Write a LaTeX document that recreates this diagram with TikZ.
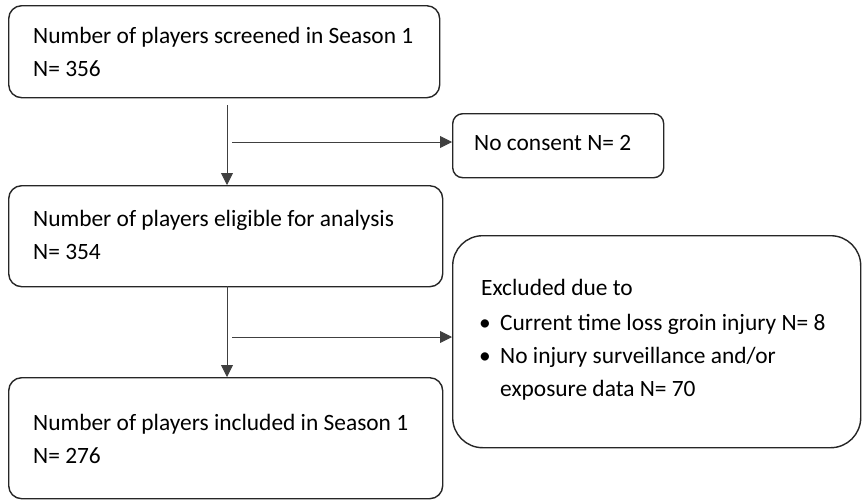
\documentclass[tikz,border=0pt]{standalone}
\usepackage{fontspec}
\setmainfont{Carlito}
\usetikzlibrary{arrows.meta}
\tikzset{
  box/.style={draw=black!85, line width=1.4pt, rounded corners=13pt, inner sep=0pt, anchor=north west},
  txt/.style={anchor=base west, inner sep=0pt, font=\fontsize{23.4pt}{27pt}\selectfont, text=black},
  flow/.style={draw=black!75, line width=0.9pt, -{Triangle[length=12pt,width=12pt]}}
}
\begin{document}
\begin{tikzpicture}[x=1pt,y=-1pt]
\useasboundingbox (0,0) rectangle (862,501);
% boxes
\node[box, minimum width=431pt, minimum height=92pt] (b1) at (8,5) {};
\node[box, minimum width=434pt, minimum height=101pt] (b2) at (8,185) {};
\node[box, minimum width=434pt, minimum height=121pt] (b3) at (8,377) {};
\node[box, minimum width=211pt, minimum height=64pt, rounded corners=10pt] (nc) at (452,113) {};
\node[box, minimum width=408pt, minimum height=212pt, rounded corners=30pt] (ex) at (452,235) {};
% texts
\node[txt] (t1a) at (33,43) {Number of players screened in Season 1};
\node[txt] (t1b) at (33,76) {N= 356};
\node[txt] (t2a) at (33,226) {Number of players eligible for analysis};
\node[txt] (t2b) at (33,259) {N= 354};
\node[txt] (t3a) at (33,430) {Number of players included in Season 1};
\node[txt] (t3b) at (33,463) {N= 276};
\node[txt] (tnc) at (474,150) {No consent N= 2};
\node[txt] (tex) at (481,295) {Excluded due to};
\node[txt] (bu1) at (479,330) {\textbullet};
\node[txt] (te1) at (500,330) {Current time loss groin injury N= 8};
\node[txt] (bu2) at (479,363) {\textbullet};
\node[txt] (te2) at (500,363) {No injury surveillance and/or};
\node[txt] (te3) at (500,396) {exposure data N= 70};
% connectors
\coordinate (v1) at (227,105);
\coordinate (h1) at (232,142);
\coordinate (v2) at (227,286);
\coordinate (h2) at (232,337);
\draw[flow] (v1) -- (v1 |- b2.north);
\draw[flow] (h1) -- (h1 -| nc.west);
\draw[flow] (v2) -- (v2 |- b3.north);
\draw[flow] (h2) -- (h2 -| ex.west);
\end{tikzpicture}
\end{document}
